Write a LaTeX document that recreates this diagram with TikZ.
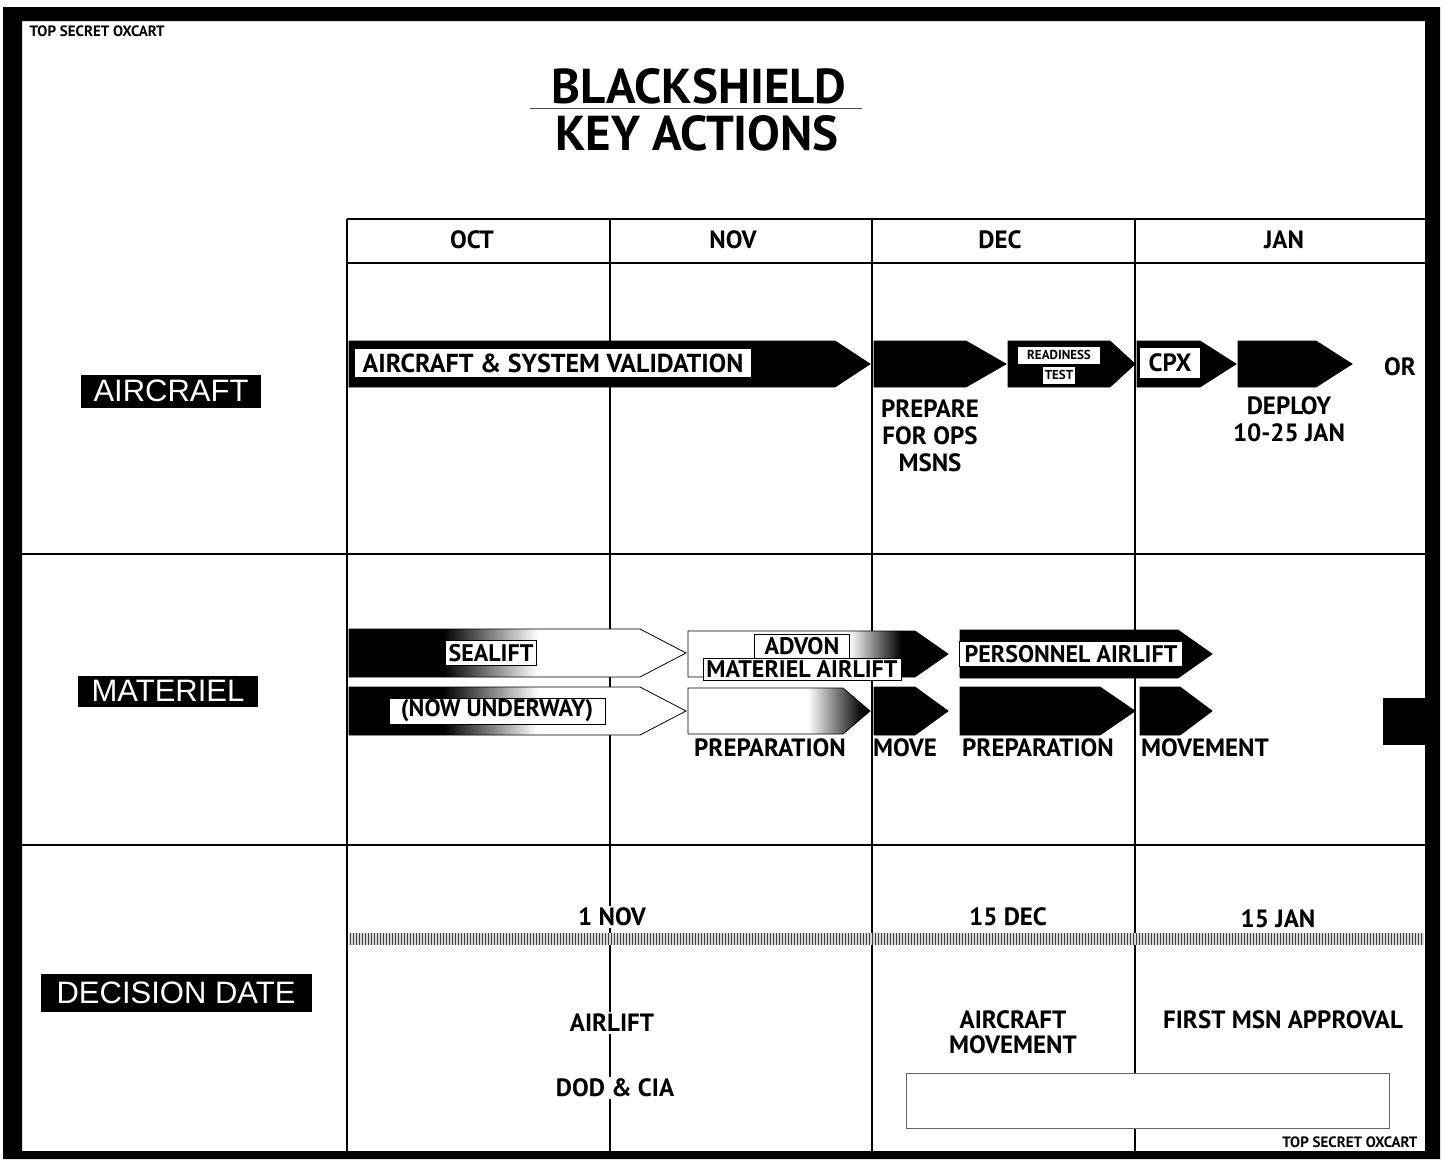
\documentclass[tikz,border=0pt]{standalone}
\usepackage{fontspec}
\setmainfont{PT Sans}
\newfontfamily\labelfont{Liberation Sans}
\usetikzlibrary{positioning,calc}

% fading bar fills (box of the bar maps to 25bp..75bp)
\pgfdeclarehorizontalshading{fadeout}{100bp}{color(0bp)=(black); color(39bp)=(black); color(53bp)=(white); color(100bp)=(white)}
\pgfdeclarehorizontalshading{fadeinA}{100bp}{color(0bp)=(white); color(56bp)=(white); color(66bp)=(black); color(100bp)=(black)}
\pgfdeclarehorizontalshading{fadeinB}{100bp}{color(0bp)=(white); color(58bp)=(white); color(73bp)=(black); color(100bp)=(black)}

% bar with arrow head: style, start, head start, tip, top, bottom
\newcommand\barrow[6]{%
  \path[#1] (#2,#5) -- (#3,#5) -- (#4,{(#5+#6)/2}) -- (#3,#6) -- (#2,#6) -- cycle;}

\begin{document}
\begin{tikzpicture}[
  x=1pt, y=-1pt,
  font=\fontsize{25}{28}\selectfont\bfseries,
  rule/.style={line width=1.6pt},
  cat/.style={fill=black, text=white, inner sep=0pt,
              font=\labelfont\fontsize{31}{33}\selectfont},
  month/.style={font=\fontsize{25}{28}\selectfont\bfseries},
  note/.style={align=center, font=\fontsize{25}{27}\selectfont\bfseries},
  tag/.style={fill=white, draw=black, line width=0.8pt, inner sep=0pt,
              font=\fontsize{24}{26}\selectfont\bfseries},
  solidbar/.style={fill=black, draw=black, line width=0.8pt},
  fadebar/.style={shade, shading=#1, draw=black, line width=0.8pt},
  headline/.style={inner sep=0pt, anchor=base, text height=35pt, text depth=0pt,
                   font=\fontsize{49}{52}\selectfont\bfseries},
  stamp/.style={font=\fontsize{15}{16}\selectfont\bfseries}
]
\useasboundingbox (0,0) rectangle (1453,1159);

% frame
\fill[black, even odd rule] (3,7) rectangle (1440,1159) (22,21) rectangle (1425,1151);
\fill[black] (1383,698) rectangle (1425,745);

\node[stamp, anchor=west] (tsTop) at (26,31) {TOP SECRET OXCART};
\node[stamp, anchor=east] (tsBot) at (1421,1142) {TOP SECRET OXCART};

% title
\node[headline] (title) at (699,103) {BLACKSHIELD};
\node[headline] (subtitle) at (697,150) {KEY ACTIONS};
\draw[line width=0.8pt, black!70] (530,108) -- (862,108);

% grid
\draw[rule] (347,219) -- (1425,219);
\draw[rule] (347,263) -- (1425,263);
\draw[rule] (22,554) -- (1425,554);
\draw[rule] (22,845) -- (1425,845);
\foreach \x in {347,610,872,1135}
  \draw[rule] (\x,219) -- (\x,1151);

\node[month] (oct) at (472,240) {OCT};
\node[month] (nov) at (733,240) {NOV};
\node[month] (dec) at (1000,240) {DEC};
\node[month] (jan) at (1284,240) {JAN};

% row labels
\node[cat, minimum width=180, minimum height=33] (aircraft) at (171,391) {AIRCRAFT};
\node[cat, minimum width=180, minimum height=31] (materiel) at (168,691) {MATERIEL};
\node[cat, minimum width=271, minimum height=38] (decision) at (176,993) {DECISION DATE};

% aircraft row
\barrow{solidbar}{349}{835}{870}{341}{387}
\barrow{solidbar}{874}{966}{1006}{341}{387}
\barrow{solidbar}{1008}{1110}{1135}{341}{387}
\barrow{solidbar}{1137}{1200}{1236}{341}{387}
\barrow{solidbar}{1238}{1316}{1352}{341}{387}
\node[tag, minimum width=397, minimum height=29,
      font=\fontsize{26}{28}\selectfont\bfseries] (validation) at (553,363) {AIRCRAFT \& SYSTEM VALIDATION};
\node[tag, draw=none, minimum width=82, minimum height=17,
      font=\fontsize{13}{14}\selectfont\bfseries] (readiness) at (1059,355) {READINESS};
\node[tag, draw=none, minimum width=32, minimum height=17,
      font=\fontsize{13}{14}\selectfont\bfseries] (test) at (1059,375) {TEST};
\node[tag, draw=none, minimum width=60, minimum height=30,
      font=\fontsize{25}{26}\selectfont\bfseries] (cpx) at (1170,363) {CPX};
\node[month] (or) at (1400,367) {OR};
\node[note] (prepare) at (930,436) {PREPARE\\FOR OPS\\MSNS};
\node[note] (deploy) at (1289,419) {DEPLOY\\10-25 JAN};

% materiel row
\barrow{fadebar=fadeout}{349}{640}{686}{629}{677}
\barrow{fadebar=fadeinA}{688}{915}{948}{631}{677}
\barrow{solidbar}{960}{1178}{1212}{630}{678}
\barrow{fadebar=fadeout}{349}{640}{686}{687}{735}
\barrow{fadebar=fadeinB}{688}{843}{870}{688}{734}
\barrow{solidbar}{874}{915}{948}{687}{735}
\barrow{solidbar}{960}{1100}{1135}{687}{735}
\barrow{solidbar}{1140}{1180}{1212}{687}{735}
\node[tag, minimum width=91, minimum height=25] (sealift) at (491,653) {SEALIFT};
\node[tag, minimum width=216, minimum height=26] (underway) at (497,711) {(NOW UNDERWAY)};
\node[tag, minimum width=95, minimum height=24] (advon) at (802,646) {ADVON};
\node[tag, minimum width=198, minimum height=22] (matair) at (802,669) {MATERIEL AIRLIFT};
\node[tag, minimum width=223, minimum height=25] (personnel) at (1071,654) {PERSONNEL AIRLIFT};
\node[note] (prepA) at (770,748) {PREPARATION};
\node[note] (move) at (905,748) {MOVE};
\node[note] (prepB) at (1038,748) {PREPARATION};
\node[note] (movement) at (1205,748) {MOVEMENT};

% decision row
\fill[black!15] (349,933) rectangle (1424,945);
\foreach \x in {350,353,...,1422}
  \draw[line width=0.9pt, black!75] (\x,933) -- (\x,945);
\node[note, fill=white, inner sep=2pt] (dNov) at (612,917) {1 NOV};
\node[note] (dDec) at (1008,917) {15 DEC};
\node[note] (dJan) at (1278,919) {15 JAN};
\node[note, fill=white, inner sep=2pt] (airlift) at (612,1023) {AIRLIFT};
\node[note, fill=white, inner sep=2pt] (dodcia) at (615,1088) {DOD \& CIA};
\node[note, font=\fontsize{25}{25}\selectfont\bfseries] (acmove) at (1013,1032) {AIRCRAFT\\MOVEMENT};
\node[note] (firstmsn) at (1283,1020) {FIRST MSN APPROVAL};
\node[draw=black!60, line width=0.8pt, fill=white, minimum width=483, minimum height=55] (blank) at (1148,1101) {};
\end{tikzpicture}
\end{document}
